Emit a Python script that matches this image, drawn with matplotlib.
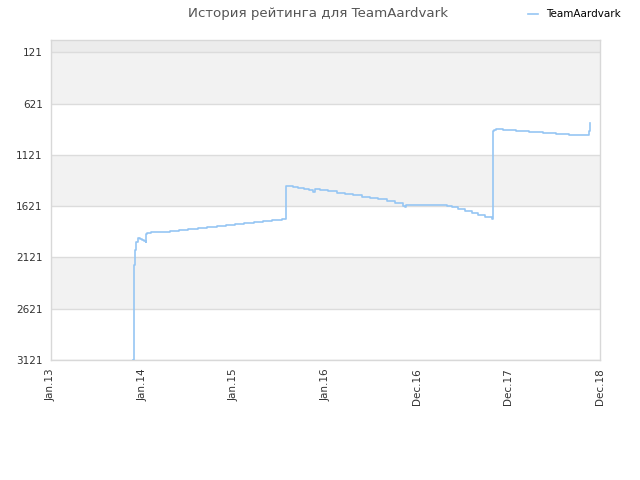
import matplotlib
matplotlib.use("Agg")
import matplotlib.pyplot as plt
import pandas as pd
import numpy as np

# ---- data ----
start_date = "2013-01-01"
day_offsets = [329, 329.5, 330, 330.3, 330.6, 331, 331.3, 331.6, 332, 333, 336, 340, 348, 355, 365, 372, 378,
               379, 384, 398, 435, 475, 511, 548, 588, 623, 661, 698, 734, 771, 810, 847, 883, 920,
               936, 960, 967, 986, 1009, 1030, 1046, 1053, 1073, 1106, 1140, 1173, 1206, 1239,
               1273, 1306, 1339, 1372, 1405, 1412, 1416, 1499, 1578, 1598, 1625, 1651, 1678, 1705,
               1731, 1758, 1762, 1767, 1774, 1802, 1855, 1908, 1961, 2014, 2068, 2121, 2145, 2150]
ratings = [3121, 2877, 2722, 2585, 2462, 2391, 2326, 2277, 2228, 2196, 2050, 1969, 1930, 1940, 1950, 1960, 1969,
           1897, 1887, 1877, 1871, 1862, 1852, 1842, 1832, 1826, 1816, 1806, 1796, 1787, 1777, 1767, 1757, 1748,
           1423, 1423, 1433, 1443, 1452, 1465, 1481, 1455, 1465, 1475, 1488, 1501, 1514, 1527,
           1540, 1556, 1572, 1592, 1618, 1627, 1611, 1614, 1621, 1634, 1653, 1673, 1692, 1712,
           1731, 1748, 890, 874, 868, 878, 887, 897, 907, 917, 926, 932, 887, 806]
series_name = "TeamAardvark"
title = "История рейтинга для TeamAardvark"
x_tick_labels = ["Jan.13", "Jan.14", "Jan.15", "Jan.16", "Dec.16", "Dec.17", "Dec.18"]
y_ticks = [121, 621, 1121, 1621, 2121, 2621, 3121]

t0 = pd.Timestamp(start_date)
dates = t0 + pd.to_timedelta(day_offsets, unit="D")
tick_dates = [t0 + pd.Timedelta(days=365 * i) for i in range(len(x_tick_labels))]

fig = plt.figure(figsize=(6.4, 4.8), dpi=100)
ax = fig.add_axes([51 / 640, 0.25, (600 - 51) / 640, (360 - 40) / 480])

y_top, y_bot = 1, 3121
ax.set_ylim(y_bot, y_top)
ax.set_xlim(tick_dates[0], tick_dates[-1])

# alternating bands
band_edges = [y_top] + y_ticks
band_colors = ["#ececec", "#f2f2f2", "#ffffff", "#f2f2f2", "#ffffff", "#f2f2f2", "#ffffff"]
for (a, b), c in zip(zip(band_edges[:-1], band_edges[1:]), band_colors):
    ax.axhspan(a, b, color=c, zorder=0, lw=0)
for yv in y_ticks:
    ax.axhline(yv, color="#dcdcdc", lw=1, zorder=1)

ax.plot(dates, ratings, drawstyle="steps-post", color="#96c6f4", lw=1.2, zorder=3,
        label=series_name)

ax.set_yticks(y_ticks)
ax.set_yticklabels([str(v) for v in y_ticks], fontsize=7.5, color="#333333")
ax.set_xticks(tick_dates)
ax.set_xticklabels(x_tick_labels, rotation=90, fontsize=7.5, color="#333333")
ax.tick_params(axis="both", length=0, pad=6)
for s in ax.spines.values():
    s.set_color("#d8d8d8")
    s.set_linewidth(1)

fig.text(0.497, 0.972, title, ha="center", va="center", fontsize=9.6, color="#555555")
leg = fig.legend(loc="upper right", bbox_to_anchor=(0.985, 1.0), frameon=False, fontsize=7.5,
                 handlelength=1.0, handletextpad=0.8)

fig.savefig("out.png", dpi=100)
